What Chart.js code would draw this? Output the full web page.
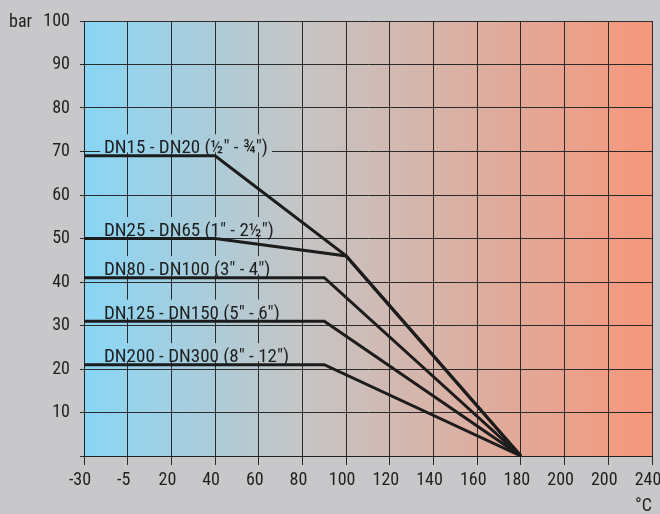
<!DOCTYPE html>
<html><head><meta charset="utf-8">
<script src="https://cdn.jsdelivr.net/npm/chart.js@4"></script>
<style>html,body{margin:0;padding:0;background:#c8c8ca;overflow:hidden;}</style>
</head><body><canvas id="c" width="660" height="514"></canvas>
<script>
const tempTicks = [-30, -5, 20, 40, 60, 80, 100, 120, 140, 160, 180, 200, 220, 240];
const tickLabels = ['-30', '-5', '20', '40', '60', '80', '100', '120', '140', '160', '180', '200', '200', '240'];
const seriesNames = ['DN15 - DN20 (½" - ¾")', 'DN25 - DN65 (1" - 2½")', 'DN80 - DN100 (3" - 4")', 'DN125 - DN150 (5" - 6")', 'DN200 - DN300 (8" - 12")'];
const dn15Temp = [-30, 40, 100, 180];
const dn15Bar = [69, 69, 46, 0];
const dn25Temp = [-30, 40, 100, 180];
const dn25Bar = [50, 50, 46, 0];
const dn80Temp = [-30, 90, 180];
const dn80Bar = [41, 41, 0];
const dn125Temp = [-30, 90, 180];
const dn125Bar = [31, 31, 0];
const dn200Temp = [-30, 90, 180];
const dn200Bar = [21, 21, 0];
const yUnit = 'bar';
const xUnit = '°C';

const FONT = "'Roboto Condensed', 'DejaVu Sans Condensed', sans-serif";
const INK = '#1f1f1f';

// axis is evenly spaced by tick, not by temperature: map temperature to tick position
function tempToPos(t) {
  for (let i = 0; i < tempTicks.length - 1; i++) {
    const a = tempTicks[i], b = tempTicks[i + 1];
    if (t <= b) return i + (t - a) / (b - a);
  }
  return tempTicks.length - 1;
}
function pts(ts, vs) { return ts.map((t, i) => ({ x: tempToPos(t), y: vs[i] })); }

const seriesData = [pts(dn15Temp, dn15Bar), pts(dn25Temp, dn25Bar), pts(dn80Temp, dn80Bar), pts(dn125Temp, dn125Bar), pts(dn200Temp, dn200Bar)];

function makeGrad(ctx, area) {
  const g = ctx.createLinearGradient(area.left, 0, area.right, 0);
  g.addColorStop(0, '#88d6f6');
  g.addColorStop(0.38, '#c5c5c5');
  g.addColorStop(1, '#f5977b');
  return g;
}

const bgPlugin = {
  id: 'bg',
  beforeDraw(chart) {
    const ctx = chart.ctx, a = chart.chartArea;
    ctx.save();
    ctx.fillStyle = '#c8c8ca';
    ctx.fillRect(0, 0, chart.width, chart.height);
    ctx.fillStyle = makeGrad(ctx, a);
    ctx.fillRect(a.left, a.top, a.right - a.left, a.bottom - a.top);
    ctx.restore();
  }
};

const labelPlugin = {
  id: 'labels',
  beforeDatasetsDraw(chart) {
    const ctx = chart.ctx, a = chart.chartArea;
    const xs = chart.scales.x, ys = chart.scales.y;
    ctx.save();
    ctx.font = '19px ' + FONT;
    ctx.textBaseline = 'alphabetic';
    ctx.textAlign = 'left';
    const grad = makeGrad(ctx, a);
    chart.data.datasets.forEach((ds) => {
      const p = ds.data[0];
      const x = xs.getPixelForValue(p.x) + 20;
      const y = ys.getPixelForValue(p.y) - 2.5;
      const w = ctx.measureText(ds.label).width;
      ctx.fillStyle = grad;
      ctx.fillRect(x - 4, y - 19, w + 8, 18);
      ctx.fillStyle = INK;
      ctx.fillText(ds.label, x, y);
    });
    ctx.restore();
  },
  afterDraw(chart) {
    const ctx = chart.ctx, a = chart.chartArea;
    ctx.save();
    ctx.font = '18px ' + FONT;
    ctx.fillStyle = INK;
    ctx.textBaseline = 'middle';
    ctx.textAlign = 'left';
    ctx.fillText(yUnit, 9, a.top + 1);
    ctx.textAlign = 'right';
    ctx.fillText(xUnit, a.right, 506);
    ctx.restore();
  }
};

new Chart(document.getElementById('c'), {
  type: 'line',
  data: {
    datasets: seriesNames.map((name, i) => ({
      label: name,
      data: seriesData[i],
      borderColor: '#1c1c1c',
      borderWidth: 3,
      pointRadius: 0,
      tension: 0,
      fill: false
    }))
  },
  options: {
    responsive: false,
    animation: false,
    devicePixelRatio: 1,
    layout: { padding: { left: 0, right: 8, top: 21, bottom: 0 } },
    plugins: { legend: { display: false }, tooltip: { enabled: false } },
    scales: {
      x: {
        type: 'linear',
        min: 0,
        max: tempTicks.length - 1,
        afterBuildTicks(scale) { scale.ticks = tempTicks.map((t, i) => ({ value: i })); },
        ticks: {
          stepSize: 1,
          autoSkip: false,
          maxRotation: 0,
          labelOffset: -4,
          padding: 5,
          color: INK,
          font: { family: FONT, size: 18 },
          callback: (v) => tickLabels[v]
        },
        grid: { color: '#2b2b2b', lineWidth: 1, tickLength: 9, drawTicks: true },
        border: { display: true, color: '#222', width: 1 },
        afterFit(scale) { scale.height = 58; scale.paddingLeft = 0; scale.paddingRight = 0; }
      },
      y: {
        type: 'linear',
        min: 0,
        max: 100,
        ticks: {
          stepSize: 10,
          padding: 10,
          color: INK,
          font: { family: FONT, size: 18 },
          callback: (v) => (v === 0 ? '' : String(v))
        },
        grid: { color: '#2b2b2b', lineWidth: 1, tickLength: 4, drawTicks: true },
        border: { display: true, color: '#222', width: 1 },
        afterFit(scale) { scale.width = 84; scale.paddingTop = 0; scale.paddingBottom = 0; }
      }
    }
  },
  plugins: [bgPlugin, labelPlugin]
});
</script>
</body></html>
